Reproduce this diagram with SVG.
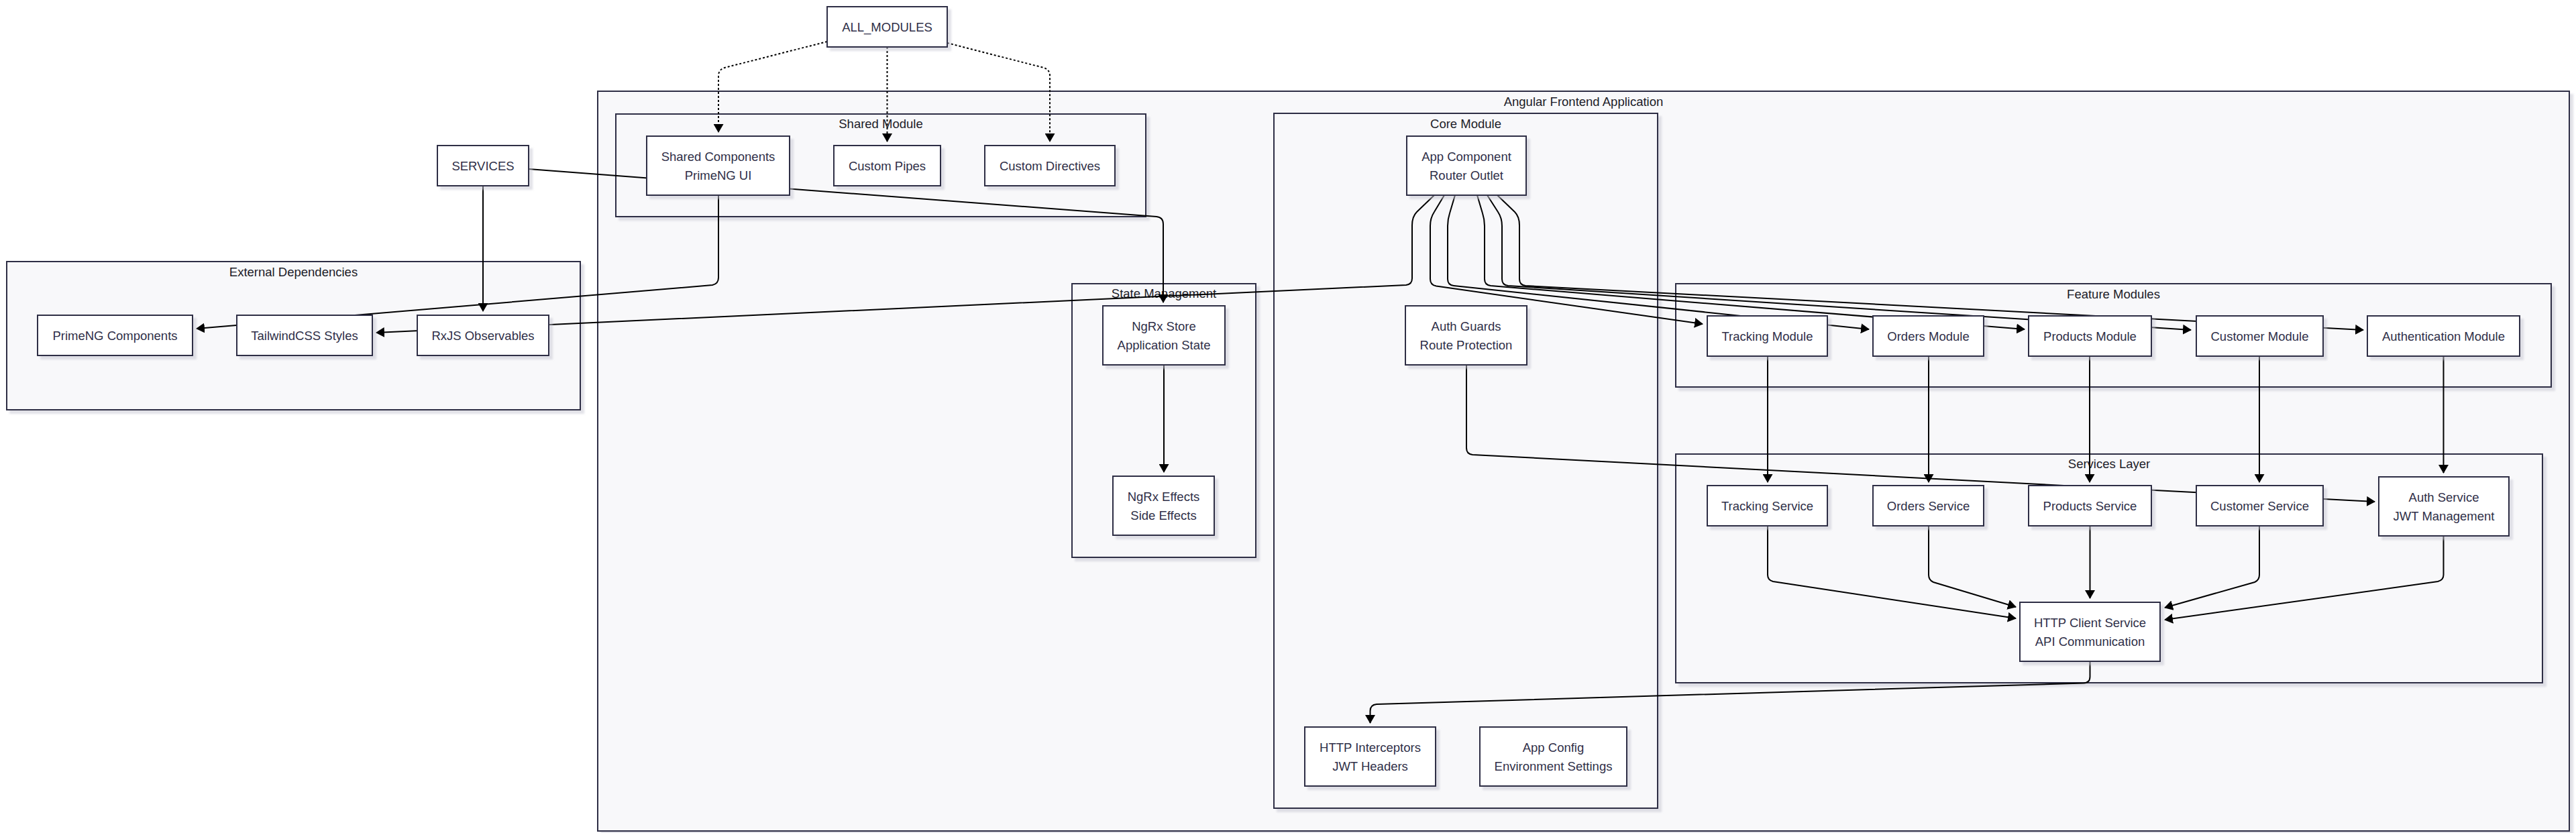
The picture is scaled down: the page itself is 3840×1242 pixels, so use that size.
<svg xmlns="http://www.w3.org/2000/svg" width="3840" height="1242" viewBox="0 0 3840 1242">
<style>
  .cl { fill: #f8f8fa; stroke: #2f2f45; stroke-width: 2; filter: url(#sh); }
  .nd { fill: #ffffff; stroke: #2f2f45; stroke-width: 2; filter: url(#sh); }
  .ct { font-family: "Liberation Sans", Arial, sans-serif; font-size: 18.5px; fill: #1c1c28; text-anchor: middle; }
  .nt { font-family: "Liberation Sans", Arial, sans-serif; font-size: 18.5px; fill: #2f2f48; text-anchor: middle; }
  .ed { fill: none; stroke: #000000; stroke-width: 2; marker-end: url(#arr); }
  .ln { fill: none; stroke: #000000; stroke-width: 2; }
  .dt { fill: none; stroke: #000000; stroke-width: 2; stroke-dasharray: 3 3; marker-end: url(#arr); }
</style>
<defs>
  <marker id="arr" viewBox="0 0 13 15" refX="12" refY="7.5" markerWidth="13" markerHeight="15" markerUnits="userSpaceOnUse" orient="auto">
    <path d="M0,0 L13,7.5 L0,15 z" fill="#000000"/>
  </marker>
  <filter id="sh" x="-5%" y="-5%" width="115%" height="120%">
    <feDropShadow dx="5" dy="5" stdDeviation="1.5" flood-color="#c4c4d0" flood-opacity="0.5"/>
  </filter>
</defs>
<rect width="3840" height="1242" fill="#ffffff"/>

<g id="clusters">
  <g id="cluster-angular">
    <rect class="cl" x="891" y="136" width="2939" height="1103"/>
    <text class="ct" x="2360.5" y="157.5">Angular Frontend Application</text>
  </g>
  <g id="cluster-external">
    <rect class="cl" x="10" y="390" width="855" height="221"/>
    <text class="ct" x="437.5" y="411.5">External Dependencies</text>
  </g>
  <g id="cluster-shared">
    <rect class="cl" x="918" y="170" width="790" height="153"/>
    <text class="ct" x="1313" y="190.5">Shared Module</text>
  </g>
  <g id="cluster-core">
    <rect class="cl" x="1899" y="169" width="572" height="1036"/>
    <text class="ct" x="2185" y="190.5">Core Module</text>
  </g>
  <g id="cluster-state">
    <rect class="cl" x="1598" y="423" width="274" height="408"/>
    <text class="ct" x="1735" y="443.5">State Management</text>
  </g>
  <g id="cluster-feature">
    <rect class="cl" x="2498" y="423" width="1305" height="154"/>
    <text class="ct" x="3150.5" y="444.5">Feature Modules</text>
  </g>
  <g id="cluster-services">
    <rect class="cl" x="2498" y="677" width="1292" height="341"/>
    <text class="ct" x="3144" y="697.5">Services Layer</text>
  </g>
</g>

<g id="connectors">
  <!-- ALL_MODULES dotted -->
  <path class="dt" d="M1233,62 L1080,101 Q1071,104 1071,113 L1071,197"/>
  <path class="dt" d="M1322.5,70 L1322.5,211"/>
  <path class="dt" d="M1412,64 L1556,101 Q1565,104 1565,113 L1565,211"/>
  <!-- SERVICES -->
  <path class="ed" d="M720,277 L720,464"/>
  <path class="ed" d="M788,252 L1724,323 Q1734,324 1734,334 L1734,451"/>
  <!-- Shared Components -> PrimeNG -->
  <path class="ed" d="M1071,291 L1071,414 Q1071,423 1062,425 L293,490"/>
  <!-- NgRx Store -> Effects -->
  <path class="ed" d="M1735,544 L1735,704"/>
  <!-- App Component fan -->
  <path class="ed" d="M2138,291 L2112,316 Q2105,323 2105,336 L2105,415 Q2105,424 2096,425 L561,496"/>
  <path class="ed" d="M2153,291 L2138,316 Q2132,325 2132,337 L2132,416 Q2132,425 2141,426.5 L2538,483"/>
  <path class="ed" d="M2169,291 L2161,318 Q2158,327 2158,337 L2158,416 Q2158,425 2167,426 L2786,491"/>
  <path class="ed" d="M2202,291 L2210,318 Q2213,327 2213,337 L2213,416 Q2213,425 2222,426 L3018,491"/>
  <path class="ed" d="M2217,291 L2233,316 Q2239,325 2239,337 L2239,416 Q2239,425 2248,426 L3266,492"/>
  <path class="ed" d="M2232,291 L2258,316 Q2265,323 2265,336 L2265,416 Q2265,425 2274,426 L3523,492"/>
  <!-- Modules -> Services -->
  <path class="ed" d="M2635,531 L2635,719"/>
  <path class="ed" d="M2875,531 L2875,719"/>
  <path class="ed" d="M3115,531 L3115,719"/>
  <path class="ed" d="M3368,531 L3368,719"/>
  <path class="ed" d="M3642.5,531 L3642.5,705"/>
  <!-- Services -> HTTP Client -->
  <path class="ed" d="M2635,784 L2635,857 Q2635,865 2643,867 L3005,922"/>
  <path class="ed" d="M2875,784 L2875,857 Q2875,865 2882,868 L3005,905"/>
  <path class="ed" d="M3115.5,784 L3115.5,892"/>
  <path class="ed" d="M3368,784 L3368,857 Q3368,865 3361,868 L3227,906"/>
  <path class="ed" d="M3642.5,799 L3642.5,857 Q3642.5,865 3634,867 L3227,924"/>
  <!-- HTTP Client -> Interceptors -->
  <path class="ed" d="M3115.5,986 L3115.5,1009 Q3115.5,1018 3106,1018.5 L2052,1050 Q2042.5,1051 2042.5,1060 L2042.5,1078"/>
  <!-- Auth Guards -> Auth Service -->
  <path class="ed" d="M2186,544 L2186,668 Q2186,677 2195,678 L3540,748"/>
</g>

<g id="nodes">
  <g id="n-all-modules"><rect class="nd" x="1233" y="10" width="179" height="60"/><text class="nt" x="1322.5" y="46.5">ALL_MODULES</text></g>
  <g id="n-services"><rect class="nd" x="652" y="217" width="136" height="60"/><text class="nt" x="720" y="253.5">SERVICES</text></g>
  <g id="n-shared-components"><rect class="nd" x="964" y="203" width="213" height="88"/><text class="nt" x="1070.5" y="239.5">Shared Components</text><text class="nt" x="1070.5" y="267.5">PrimeNG UI</text></g>
  <g id="n-custom-pipes"><rect class="nd" x="1243" y="217" width="159" height="60"/><text class="nt" x="1322.5" y="253.5">Custom Pipes</text></g>
  <g id="n-custom-directives"><rect class="nd" x="1468" y="217" width="194" height="60"/><text class="nt" x="1565" y="253.5">Custom Directives</text></g>
  <g id="n-primeng"><rect class="nd" x="56" y="470" width="231" height="60"/><text class="nt" x="171.5" y="506.5">PrimeNG Components</text></g>
  <g id="n-tailwind"><rect class="nd" x="353" y="470" width="202" height="60"/><text class="nt" x="454" y="506.5">TailwindCSS Styles</text></g>
  <g id="n-rxjs"><rect class="nd" x="622" y="470" width="196" height="60"/><text class="nt" x="720" y="506.5">RxJS Observables</text></g>
  <g id="n-ngrx-store"><rect class="nd" x="1644" y="456" width="182" height="88"/><text class="nt" x="1735" y="492.5">NgRx Store</text><text class="nt" x="1735" y="520.5">Application State</text></g>
  <g id="n-ngrx-effects"><rect class="nd" x="1659" y="710" width="151" height="88"/><text class="nt" x="1734.5" y="746.5">NgRx Effects</text><text class="nt" x="1734.5" y="774.5">Side Effects</text></g>
  <g id="n-app-component"><rect class="nd" x="2097" y="203" width="178" height="88"/><text class="nt" x="2186" y="239.5">App Component</text><text class="nt" x="2186" y="267.5">Router Outlet</text></g>
  <g id="n-auth-guards"><rect class="nd" x="2095" y="456" width="181" height="88"/><text class="nt" x="2185.5" y="492.5">Auth Guards</text><text class="nt" x="2185.5" y="520.5">Route Protection</text></g>
  <g id="n-http-interceptors"><rect class="nd" x="1945" y="1084" width="195" height="88"/><text class="nt" x="2042.5" y="1120.5">HTTP Interceptors</text><text class="nt" x="2042.5" y="1148.5">JWT Headers</text></g>
  <g id="n-app-config"><rect class="nd" x="2206" y="1084" width="219" height="88"/><text class="nt" x="2315.5" y="1120.5">App Config</text><text class="nt" x="2315.5" y="1148.5">Environment Settings</text></g>
  <g id="n-tracking-module"><rect class="nd" x="2545" y="471" width="179" height="60"/><text class="nt" x="2634.5" y="507.5">Tracking Module</text></g>
  <g id="n-orders-module"><rect class="nd" x="2792" y="471" width="165" height="60"/><text class="nt" x="2874.5" y="507.5">Orders Module</text></g>
  <g id="n-products-module"><rect class="nd" x="3024" y="471" width="183" height="60"/><text class="nt" x="3115.5" y="507.5">Products Module</text></g>
  <g id="n-customer-module"><rect class="nd" x="3274" y="471" width="189" height="60"/><text class="nt" x="3368.5" y="507.5">Customer Module</text></g>
  <g id="n-auth-module"><rect class="nd" x="3529" y="471" width="227" height="60"/><text class="nt" x="3642.5" y="507.5">Authentication Module</text></g>
  <g id="n-tracking-service"><rect class="nd" x="2545" y="724" width="179" height="60"/><text class="nt" x="2634.5" y="760.5">Tracking Service</text></g>
  <g id="n-orders-service"><rect class="nd" x="2792" y="724" width="165" height="60"/><text class="nt" x="2874.5" y="760.5">Orders Service</text></g>
  <g id="n-products-service"><rect class="nd" x="3024" y="724" width="183" height="60"/><text class="nt" x="3115.5" y="760.5">Products Service</text></g>
  <g id="n-customer-service"><rect class="nd" x="3274" y="724" width="189" height="60"/><text class="nt" x="3368.5" y="760.5">Customer Service</text></g>
  <g id="n-auth-service"><rect class="nd" x="3546" y="711" width="194" height="88"/><text class="nt" x="3643" y="747.5">Auth Service</text><text class="nt" x="3643" y="775.5">JWT Management</text></g>
  <g id="n-http-client"><rect class="nd" x="3011" y="898" width="209" height="88"/><text class="nt" x="3115.5" y="934.5">HTTP Client Service</text><text class="nt" x="3115.5" y="962.5">API Communication</text></g>
</g>
</svg>
